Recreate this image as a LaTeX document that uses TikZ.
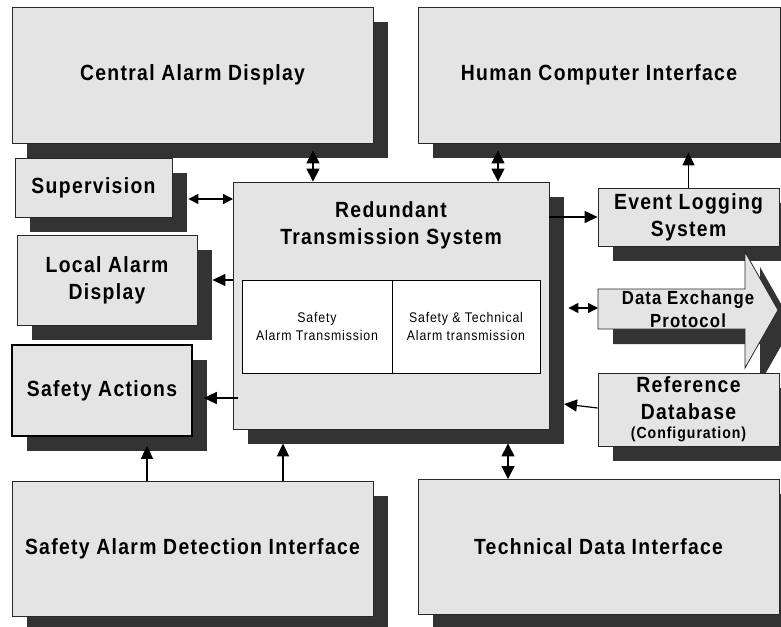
\documentclass[tikz,border=0pt]{standalone}
\usepackage{fontspec}
\setmainfont{Liberation Sans}[FakeStretch=0.88,LetterSpace=6]
\usetikzlibrary{arrows.meta,shadows}
\definecolor{boxgray}{RGB}{228,228,228}
\definecolor{shadowgray}{RGB}{51,51,51}
\definecolor{edgegray}{RGB}{40,40,40}

\begin{document}
\begin{tikzpicture}[x=1pt,y=-1pt,
  unit/.style={draw=edgegray,line width=0.8pt,fill=boxgray,inner sep=0pt,align=center,
    font=\bfseries\fontsize{22}{27}\selectfont,
    general shadow={fill=shadowgray,shadow xshift=15pt,shadow yshift=-15pt}},
  part/.style={draw=black,line width=0.8pt,fill=white,inner sep=0pt,align=center,
    font=\fontsize{14}{18}\selectfont},
  link/.style={-{Triangle[length=13pt,width=12pt]},line width=1.2pt},
  both/.style={{Triangle[length=13pt,width=13pt]}-{Triangle[length=13pt,width=13pt]},line width=1.2pt},
  thin both/.style={{Triangle[length=10pt,width=10pt]}-{Triangle[length=10pt,width=10pt]},line width=1.2pt}]
\useasboundingbox (0,0) rectangle (781,626);
\node[unit,minimum width=361pt,minimum height=136pt] (cad) at (192.5,75) {Central Alarm Display};
\node[unit,minimum width=362pt,minimum height=136pt] (hci) at (599,75) {Human Computer Interface};
\node[unit,minimum width=157pt,minimum height=59pt] (sup) at (93.5,187.5) {Supervision};
\node[unit,minimum width=180pt,minimum height=90pt] (lad) at (107,280) {Local Alarm\\Display};
\node[unit,draw=black,line width=1.6pt,minimum width=180pt,minimum height=91pt] (sact) at (102,390.5) {Safety Actions};
\node[unit,minimum width=316pt,minimum height=247pt] (rts) at (391,305.5) {};
\node[font=\bfseries\fontsize{22}{27}\selectfont,align=center,anchor=north,inner sep=0pt] (rtstitle) at ([yshift=-20pt]rts.north) {Redundant\\Transmission System};
\node[part,minimum width=150pt,minimum height=93pt] (sat) at (317,326.5) {Safety\\Alarm Transmission};
\node[part,minimum width=148pt,minimum height=93pt] (stat) at (466,326.5) {Safety \& Technical\\Alarm transmission};
\node[unit,minimum width=181pt,minimum height=58pt] (els) at (688.5,217) {Event Logging\\System};
\fill[shadowgray] (613,304) -- (760,304) -- (760,267) -- (793,325) -- (760,383) -- (760,344) -- (613,344) -- cycle;
\draw[draw=edgegray,line width=0.8pt,fill=boxgray] (598,289) -- (745,289) -- (745,252) -- (778,310) -- (745,368) -- (745,329) -- (598,329) -- cycle;
\node[font=\bfseries\fontsize{19}{23}\selectfont,align=center,inner sep=0pt] (dep) at (688,309) {Data Exchange\\Protocol};
\coordinate (deptail) at (598,308);
\node[unit,minimum width=181pt,minimum height=73pt] (rdb) at (688.5,409.5) {Reference\\Database\\[-8pt]{\fontsize{16}{19}\selectfont(Configuration)}};
\node[unit,minimum width=361pt,minimum height=135pt] (sadi) at (192.5,548.5) {Safety Alarm Detection Interface};
\node[unit,minimum width=361pt,minimum height=135pt] (tdi) at (598.5,546.5) {Technical Data Interface};
\coordinate (c1) at ([xshift=-78pt]rts.north);
\coordinate (c2) at ([xshift=107pt]rts.north);
\coordinate (c3) at (els.north);
\coordinate (c4) at (233,199);
\coordinate (c5) at (233,280);
\coordinate (c6) at (238,398);
\coordinate (c7) at (564,404);
\coordinate (c8) at (147,481);
\coordinate (c9) at (283,481);
\coordinate (c10) at (508,479);
\draw[both,shorten >=7pt] (c1) -- (c1 |- cad.south);
\draw[both,shorten >=7pt] (c2) -- (c2 |- hci.south);
\draw[link,shorten >=9pt] (c3) -- (c3 |- hci.south);
\draw[thin both,shorten >=16pt] (c4) -- (c4 -| sup.east);
\draw[link,shorten >=15pt] (c5) -- (c5 -| lad.east);
\draw[link,shorten >=11pt] (c6) -- (c6 -| sact.east);
\draw[link] (els.west -| rts.east) -- (els.west);
\draw[thin both,shorten <=19pt] (deptail -| rts.east) -- (deptail);
\draw[link] ([yshift=1.5pt]rdb.west) -- (c7);
\draw[link,shorten >=9pt] (c8) -- (c8 |- sact.south);
\draw[link,shorten >=14pt] (c9) -- (c9 |- rts.south);
\draw[both,shorten <=14pt] (c10 |- rts.south) -- (c10);
\end{tikzpicture}
\end{document}
